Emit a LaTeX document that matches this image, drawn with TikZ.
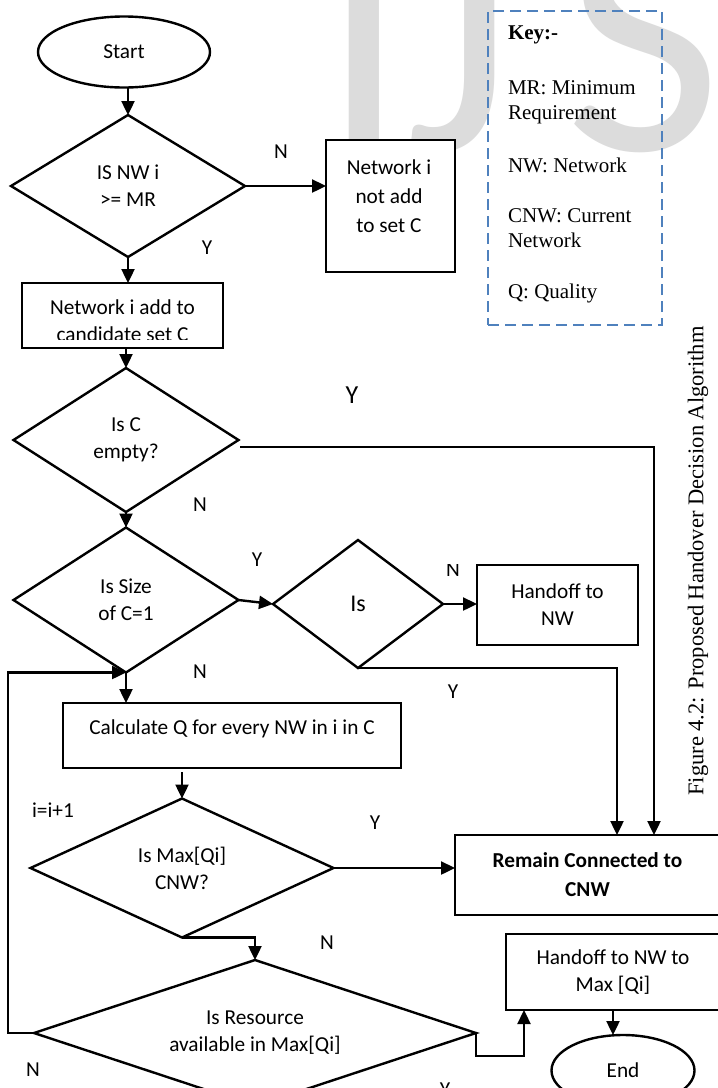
\documentclass[tikz,border=0pt]{standalone}
\usepackage{fontspec}
\setmainfont{Liberation Serif}
\newfontfamily\calfont{Carlito}
\usetikzlibrary{shapes.geometric,arrows.meta,calc}
\definecolor{keyblue}{HTML}{4F81BD}
\definecolor{wmgray}{HTML}{DCDCDC}
\begin{document}
\begin{tikzpicture}[x=1pt,y=-1pt,
  every node/.style={inner sep=0pt, outer sep=0pt},
  ln/.style={line width=2.4pt, line join=miter},
  arr/.style={ln, -{Triangle[length=14pt,width=13pt]}},
  ftext/.style={font=\calfont\fontsize{21.3}{27}\selectfont, align=center},
  box/.style={ln, draw, fill=white, rectangle, ftext},
  dia/.style={ln, draw, fill=white, diamond, ftext},
  term/.style={ln, draw, fill=white, ellipse, ftext},
  lab/.style={font=\calfont\fontsize{21.3}{27}\selectfont},
  keytext/.style={font=\fontsize{21}{25}\selectfont, align=left, anchor=west},
  wm/.style={font=\calfont\fontsize{340}{340}\selectfont, text=wmgray, anchor=base west},
]
\fill[white] (0,0) rectangle (718,1088);
\useasboundingbox (0,0) rectangle (718,1088);

% watermark
\node[wm] (wmI) at (321,150) {I};
\node[wm] (wmJ) at (405,150) {J};
\node[wm] (wmS) at (565,150) {S};

% key
\node[draw=keyblue, line width=2.4pt, dash pattern=on 11pt off 6pt, minimum width=174pt, minimum height=314pt] (key) at (575,168) {};
\node[keytext, font=\fontsize{21}{25}\selectfont\bfseries] (k0) at (508,35) {Key:-};
\node[keytext] (k1) at (508,102) {MR: Minimum\\Requirement};
\node[keytext] (k2) at (508,165) {NW: Network};
\node[keytext] (k3) at (508,228.5) {CNW: Current\\Network};
\node[keytext] (k4) at (508,293) {Q: Quality};

% caption
\node[rotate=90, font=\fontsize{22.5}{27}\selectfont] (cap) at (698,561) {Figure 4.2: Proposed Handover Decision Algorithm};

% nodes
\node[term, minimum width=172pt, minimum height=71pt] (start) at (124,52) {Start};
\node[dia, aspect=1.65, minimum width=234pt, minimum height=142pt] (d1) at (128,186) {IS NW i\\>= MR};
\node[box, minimum width=129pt, minimum height=132pt] (nbox) at (390.5,206) {};
\node[ftext, font=\calfont\fontsize{21.3}{29}\selectfont] (nboxt) at (389,196) {Network i\\not add\\to set C};
\node[box, minimum width=201pt, minimum height=65pt] (cbox) at (122.5,315.5) {};
\begin{scope}
\clip (22,283) rectangle (223,339);
\node[ftext] (cboxt) at (122.5,320.5) {Network i add to\\candidate set C};
\end{scope}
\node[dia, aspect=1.56, minimum width=225pt, minimum height=144pt] (d2) at (126,440) {Is C\\empty?};
\node[dia, aspect=1.55, minimum width=225pt, minimum height=145pt] (d3) at (126,600) {Is Size\\of C=1};
\node[dia, aspect=1.33, minimum width=170pt, minimum height=128pt, font=\calfont\fontsize{24}{28}\selectfont] (d4) at (358,604) {Is};
\node[box, minimum width=161pt, minimum height=80pt] (hbox) at (557.5,605) {Handoff to\\NW};
\node[box, minimum width=265pt, minimum height=80pt, font=\calfont\bfseries\fontsize{21.3}{29}\selectfont] (rem) at (587.5,875) {Remain Connected to\\CNW};
\node[box, minimum width=338pt, minimum height=65pt] (calc) at (232,735.5) {};
\node[ftext] (calct) at (232,729) {Calculate Q for every NW in i in C};
\node[dia, aspect=2.18, minimum width=303pt, minimum height=139pt] (d6) at (182,868) {Is Max[Qi]\\CNW?};
\node[dia, aspect=3.03, minimum width=442pt, minimum height=146pt] (d5) at (255,1033) {Is Resource\\available in Max[Qi]};
\node[box, minimum width=214pt, minimum height=76pt] (h2) at (613,972) {Handoff to NW to\\Max [Qi]};
\node[term, minimum width=143pt, minimum height=71pt] (stop) at (623,1070.5) {End};

% labels
\node[lab] (lN1) at (281,152) {N};
\node[lab] (lY1) at (207,248) {Y};
\node[lab, font=\calfont\fontsize{26}{30}\selectfont] (lY2) at (352,395) {Y};
\node[lab] (lN2) at (200,505) {N};
\node[lab] (lY3) at (257,560) {Y};
\begin{scope}
\clip (440,564) rectangle (470,575);
\node[lab] (lN3) at (453,570) {N};
\end{scope}
\node[lab] (lY4) at (453,692) {Y};
\node[lab] (lN4) at (200,672) {N};
\node[lab] (li) at (53,810) {i=i+1};
\node[lab] (lY5) at (375,823) {Y};
\node[lab] (lN5) at (327,943) {N};
\node[lab] (lN6) at (33,1070) {N};
\node[lab] (lY6) at (445,1090) {Y};

% connectors
\coordinate (d2y) at (240,447);
\coordinate (rin1) at ([xshift=29.5pt]rem.north);
\coordinate (rin2) at ([xshift=66.5pt]rem.north);
\coordinate (cq) at ([yshift=-4pt]calc.south -| d6.north);
\draw[arr] (start.south -| d1.north) -- (d1.north);
\draw[arr] (d1.east) -- (d1.east -| nbox.west);
\draw[arr] (d1.south) -- (d1.south |- cbox.north);
\draw[arr] (cbox.south -| d2.north) -- (d2.north);
\draw[arr] (d2.south) -- (d3.north);
\draw[arr] (d2y) -| (rin2);
\draw[arr] (d3.east) -- (d4.west);
\draw[arr] (d4.east) -- (d4.east -| hbox.west);
\draw[arr] (d4.south) -| (rin1);
\draw[arr] (d3.south) -- (d3.south |- calc.north);
\draw[arr] (d5.west) -- ++(-26,0) |- (d3.south);
\draw[arr] (cq) -- (d6.north);
\draw[arr] (d6.east) -- (d6.east -| rem.west);
\draw[arr] (d6.south) -| (d5.north);
\draw[arr] (d5.east) -- ++(0,23) -| ([xshift=-89pt]h2.south);
\draw[arr] (h2.south) -- (h2.south |- stop.north);
\end{tikzpicture}
\end{document}
